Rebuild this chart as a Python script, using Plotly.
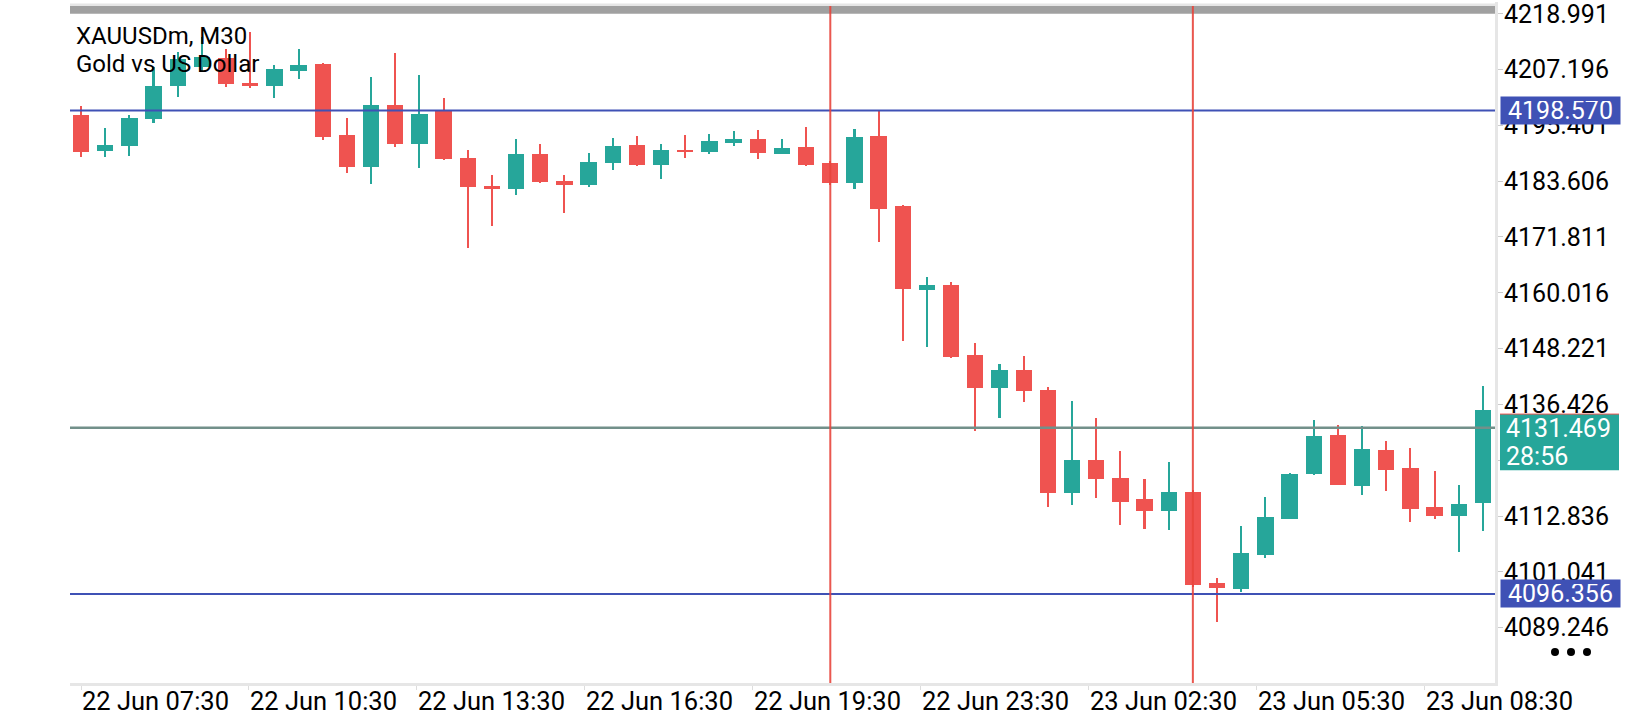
import plotly.graph_objects as go

# XAUUSDm M30 candles
opens = [4197.66, 4189.93, 4190.98, 4196.67, 4203.63, 4207.78, 4209.68, 4204.41, 4203.63, 4206.94,
         4208.41, 4193.45, 4186.56, 4199.77, 4191.40, 4198.36, 4188.60, 4182.49, 4181.92, 4189.44,
         4183.75, 4182.76, 4187.40, 4191.34, 4186.98, 4190.29, 4189.72, 4191.76, 4192.61, 4189.30,
         4190.92, 4187.55, 4183.19, 4193.24, 4178.27, 4160.64, 4161.62, 4146.87, 4139.98, 4143.71,
         4139.50, 4117.64, 4124.74, 4120.95, 4116.53, 4113.85, 4118.00, 4098.61, 4097.41, 4104.57,
         4112.16, 4121.65, 4130.01, 4119.12, 4126.85, 4123.06, 4114.84, 4112.82, 4115.62]
highs = [4199.56, 4194.92, 4197.66, 4207.78, 4210.94, 4214.10, 4211.57, 4215.16, 4208.26, 4211.57,
         4208.62, 4196.88, 4205.67, 4210.73, 4206.09, 4201.25, 4190.29, 4184.81, 4192.61, 4191.55,
         4184.81, 4189.66, 4192.82, 4193.24, 4191.55, 4193.45, 4193.66, 4194.29, 4194.50, 4192.61,
         4195.13, 4187.80, 4194.71, 4198.40, 4178.55, 4163.31, 4162.26, 4149.40, 4144.98, 4146.66,
         4140.13, 4137.18, 4133.59, 4126.64, 4120.74, 4124.32, 4118.30, 4099.81, 4110.62, 4116.95,
         4122.00, 4133.17, 4132.12, 4131.91, 4128.75, 4127.27, 4122.42, 4119.31, 4140.32]
lows = [4188.67, 4188.67, 4188.88, 4195.83, 4201.31, 4206.73, 4203.42, 4203.21, 4201.10, 4205.10,
        4192.25, 4185.29, 4182.97, 4190.77, 4186.35, 4188.18, 4169.49, 4174.12, 4180.66, 4183.19,
        4176.86, 4182.34, 4185.92, 4186.90, 4184.03, 4188.45, 4189.30, 4191.13, 4188.24, 4189.25,
        4186.77, 4182.90, 4181.92, 4170.75, 4149.89, 4148.62, 4146.30, 4130.71, 4133.45, 4137.03,
        4114.69, 4115.11, 4116.59, 4110.90, 4110.05, 4109.84, 4097.90, 4090.46, 4096.78, 4103.94,
        4112.10, 4121.60, 4119.30, 4117.22, 4118.06, 4111.53, 4112.16, 4105.25, 4109.61]
closes = [4189.72, 4191.34, 4197.03, 4203.77, 4209.47, 4209.89, 4204.05, 4203.63, 4207.36, 4208.26,
          4192.88, 4186.56, 4199.77, 4191.40, 4197.87, 4188.24, 4182.28, 4181.92, 4189.44, 4183.40,
          4182.76, 4187.76, 4191.13, 4186.98, 4190.29, 4189.72, 4192.18, 4192.61, 4189.51, 4190.71,
          4186.98, 4183.19, 4193.03, 4177.71, 4160.85, 4161.62, 4146.52, 4139.98, 4143.71, 4139.35,
          4117.64, 4124.74, 4120.59, 4115.75, 4113.85, 4118.00, 4098.25, 4097.62, 4104.93, 4112.52,
          4121.79, 4129.80, 4119.33, 4127.06, 4122.49, 4114.27, 4112.79, 4115.43, 4135.28]

# time axis labels (placed by candle index, like the terminal does)
time_labels = ["22 Jun 07:30", "22 Jun 10:30", "22 Jun 13:30", "22 Jun 16:30", "22 Jun 19:30",
               "22 Jun 23:30", "23 Jun 02:30", "23 Jun 05:30", "23 Jun 08:30"]
time_label_idx = [0, 6.95, 13.9, 20.85, 27.8, 34.75, 41.7, 48.65, 55.6]

price_ticks = [4218.991, 4207.196, 4195.401, 4183.606, 4171.811, 4160.016, 4148.221,
               4136.426, 4124.631, 4112.836, 4101.041, 4089.246]

# drawn objects
level_lines = [4198.570, 4096.356]
bid_price = 4131.469
bar_timer = "28:56"
vline_idx = [31, 46]

UP = "#26a69a"
DOWN = "#ef5350"
BLUE = "#3f51b5"

idx = list(range(len(opens)))
colors = [UP if c >= o else DOWN for o, c in zip(opens, closes)]

W, H = 1640, 720
ML, MR, MT, MB = 70, 145, 0, 37
PW, PH = W - ML - MR, H - MT - MB


def px_x(p):
    return (p - ML) / PW


def px_y(p):
    return (H - MB - p) / PH


fig = go.Figure()

# wicks
fig.add_trace(go.Bar(
    x=idx, y=[h - l for h, l in zip(highs, lows)], base=lows,
    width=0.085, marker=dict(color=colors, line=dict(width=0)),
    hoverinfo="skip", showlegend=False
))
# bodies
fig.add_trace(go.Bar(
    x=idx, y=[abs(c - o) for o, c in zip(opens, closes)],
    base=[min(o, c) for o, c in zip(opens, closes)],
    width=0.675, marker=dict(color=colors, line=dict(width=0)),
    customdata=list(zip(opens, highs, lows, closes)),
    hovertemplate="O %{customdata[0]}<br>H %{customdata[1]}<br>L %{customdata[2]}<br>C %{customdata[3]}<extra></extra>",
    showlegend=False
))

shapes = []
# top scroll bar
shapes.append(dict(type="rect", xref="paper", yref="paper", x0=0, x1=1,
                   y0=px_y(4), y1=px_y(1.5), fillcolor="#e6e6e6", line=dict(width=0), layer="above"))
shapes.append(dict(type="rect", xref="paper", yref="paper", x0=0, x1=1,
                   y0=px_y(11.7), y1=px_y(4), fillcolor="#a0a0a0", line=dict(width=0), layer="above"))
for lv in level_lines:
    shapes.append(dict(type="line", xref="paper", yref="y", x0=0, x1=1, y0=lv, y1=lv,
                       line=dict(color=BLUE, width=2)))
shapes.append(dict(type="line", xref="paper", yref="y", x0=0, x1=1, y0=bid_price, y1=bid_price,
                   line=dict(color="#72908a", width=2.5)))
for vx in vline_idx:
    shapes.append(dict(type="line", xref="x", yref="paper", x0=vx, x1=vx, y0=0, y1=px_y(4),
                       line=dict(color="#e8453c", width=2), opacity=0.9))
# bid price tag
shapes.append(dict(type="rect", xref="paper", yref="paper", x0=px_x(1500), x1=px_x(1619),
                   y0=px_y(469.5), y1=px_y(413.3), fillcolor=UP, line=dict(width=0)))
shapes.append(dict(type="line", xref="paper", yref="paper", x0=px_x(1500), x1=px_x(1619),
                   y0=px_y(413.3), y1=px_y(413.3), line=dict(color="#ef5350", width=1)))
# "..." menu dots
for cx in [1555, 1571, 1587]:
    shapes.append(dict(type="circle", xref="paper", yref="paper",
                       x0=px_x(cx - 4), x1=px_x(cx + 4), y0=px_y(656), y1=px_y(648),
                       fillcolor="#000000", line=dict(width=0)))

annotations = [
    dict(text="XAUUSDm, M30", xref="paper", yref="paper", x=px_x(74), y=px_y(34),
         xanchor="left", yanchor="middle", showarrow=False,
         font=dict(family="Roboto", size=24, color="#000000")),
    dict(text="Gold vs US Dollar", xref="paper", yref="paper", x=px_x(74), y=px_y(62),
         xanchor="left", yanchor="middle", showarrow=False,
         font=dict(family="Roboto", size=24, color="#000000")),
]
for t, ti in zip(time_labels, time_label_idx):
    annotations.append(dict(text=t, xref="x", yref="paper", x=ti, y=px_y(701),
                            xanchor="left", yanchor="middle", showarrow=False, xshift=-1,
                            font=dict(family="Roboto", size=25.5, color="#000000")))
for lv in level_lines:
    annotations.append(dict(text=f"{lv:.3f}", xref="paper", yref="y", x=px_x(1500), y=lv,
                            xanchor="left", yanchor="middle", showarrow=False,
                            width=111, height=19, borderpad=4, bgcolor=BLUE, align="center",
                            font=dict(family="Roboto", size=25, color="#ffffff")))
annotations.append(dict(text=f"{bid_price:.3f}", xref="paper", yref="paper",
                        x=px_x(1504), y=px_y(428), xanchor="left", yanchor="middle", showarrow=False,
                        font=dict(family="Roboto", size=25, color="#ffffff")))
annotations.append(dict(text=bar_timer, xref="paper", yref="paper",
                        x=px_x(1504), y=px_y(455.5), xanchor="left", yanchor="middle", showarrow=False,
                        font=dict(family="Roboto", size=25, color="#ffffff")))

fig.update_layout(
    width=W, height=H,
    margin=dict(l=ML, r=MR, t=MT, b=MB),
    paper_bgcolor="#ffffff", plot_bgcolor="#ffffff",
    barmode="overlay", bargap=0,
    shapes=shapes, annotations=annotations,
    hovermode="closest",
    xaxis=dict(range=[-0.455, 58.5], showgrid=False, zeroline=False,
               showline=True, linecolor="#e6e6e6", linewidth=3,
               tickmode="array", tickvals=time_label_idx, showticklabels=False,
               ticks="outside", ticklen=4, tickcolor="#dddddd", fixedrange=True),
    yaxis=dict(range=[4077.537, 4221.48], side="right", showgrid=False, zeroline=False,
               showline=True, linecolor="#e6e6e6", linewidth=3,
               tickmode="array", tickvals=price_ticks, tickformat=".3f",
               ticks="outside", ticklen=5, tickcolor="#cccccc",
               ticklabeloverflow="allow", ticklabelstandoff=-4,
               tickfont=dict(family="Roboto", size=25, color="#000000")),
)

fig.write_html("out.html", config={"displayModeBar": False},
               post_script="document.body.style.margin='0px';")
